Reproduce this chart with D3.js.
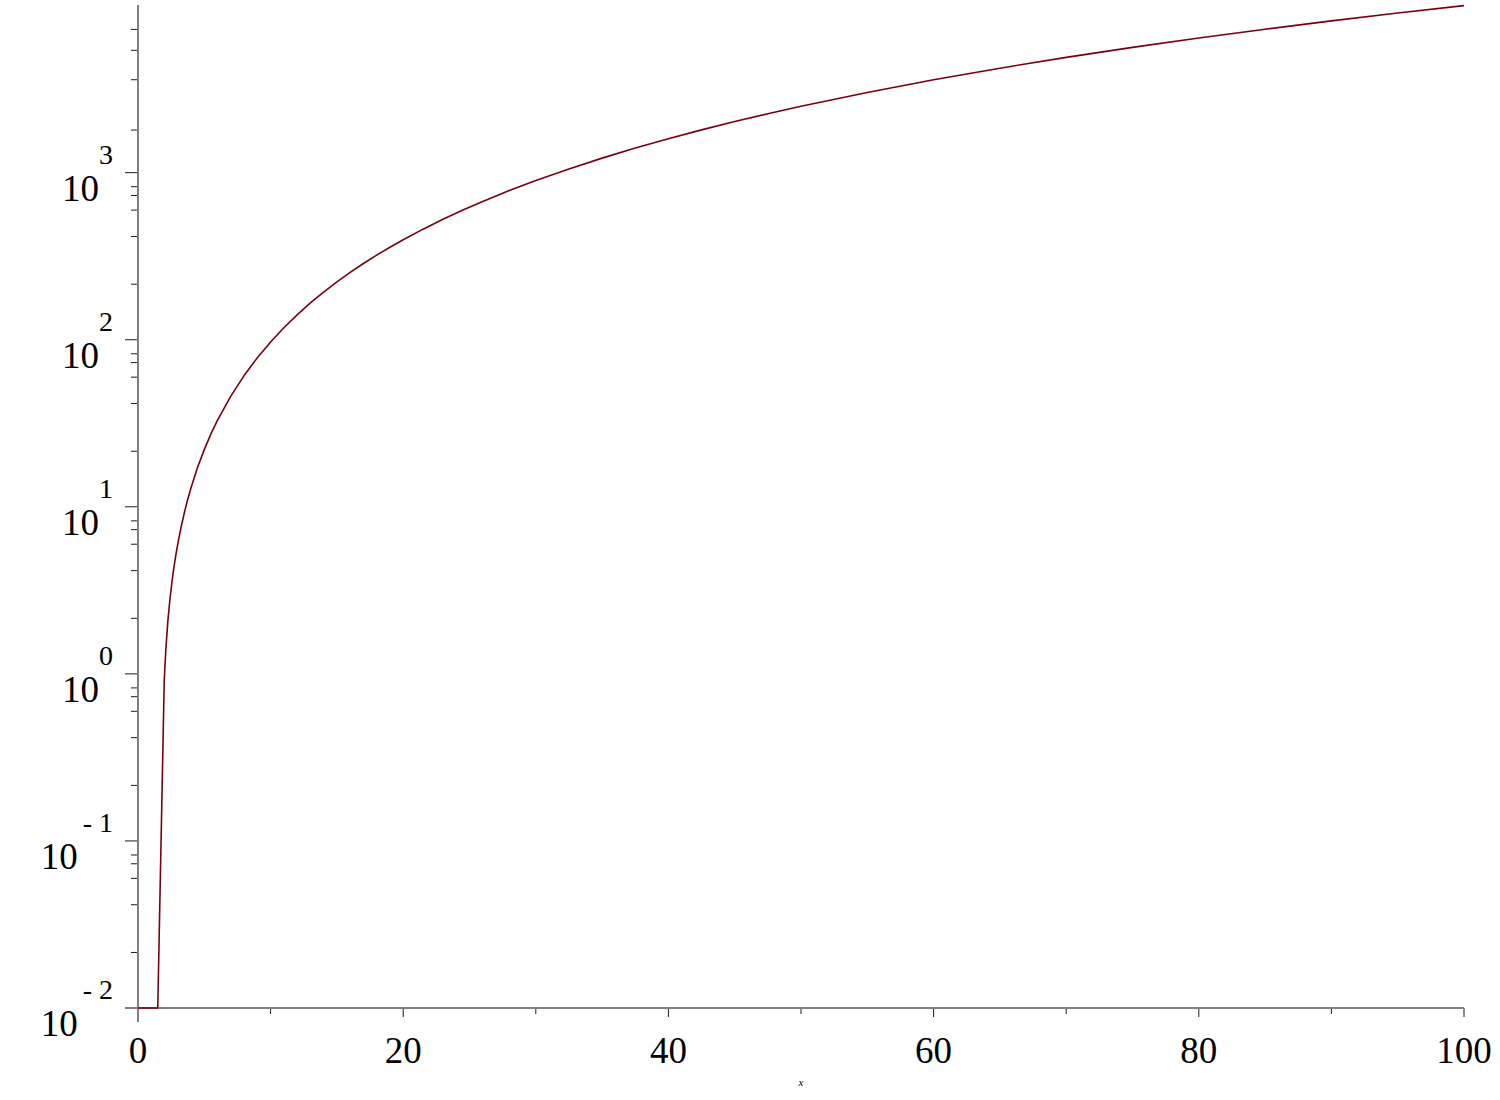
<!DOCTYPE html>
<html>
<head>
<meta charset="utf-8">
<script src="https://cdn.jsdelivr.net/npm/d3@7"></script>
<style>
  html, body { margin: 0; padding: 0; background: #ffffff; }
  svg { display: block; }
</style>
</head>
<body>
<svg id="chart" width="1500" height="1100"></svg>
<script>
// ---- data ----
const xValues = [0, 1.49, 1.98, 2.1, 2.25, 2.4, 2.55, 2.7, 2.85, 3.0, 3.25, 3.5, 3.75, 4.0, 4.5, 5.0, 5.5,
  6, 7, 8, 9, 10, 11, 12, 13, 14, 15, 16, 17, 18, 19, 20, 21.5, 23, 24.5, 26, 28, 30, 32.5, 35, 37.5, 40,
  42.5, 45, 47.5, 50, 55, 60, 65, 70, 75, 80, 85, 90, 95, 100];
const yValues = [0.01, 0.01, 0.92, 1.41, 2.06, 2.76, 3.5, 4.29, 5.12, 6.0, 7.56, 9.25, 11.1, 13.0, 17.3, 22.0, 27.3,
  33, 46, 61, 78, 97, 118, 141, 166, 193, 222, 253, 286, 321, 358, 397, 459, 526, 597, 673, 781, 897, 1053, 1222,
  1403, 1597, 1803, 2022, 2253, 2497, 3022, 3597, 4222, 4897, 5622, 6397, 7222, 8097, 9022, 9997];

const xTickValues = [0, 10, 20, 30, 40, 50, 60, 70, 80, 90, 100];
const xTickLabels = ["0", "", "20", "", "40", "", "60", "", "80", "", "100"];
const yMajorExponents = [-2, -1, 0, 1, 2, 3];
const yExponentLabels = ["- 2", "- 1", "0", "1", "2", "3"];
const yMinorMultipliers = [2.15, 4.15, 5.97, 7.3, 8.24];
const yTopMinorTicks = [1800, 3600, 5400, 7200];
const xAxisTitle = "x";

// ---- scales ----
const x = d3.scaleLinear().domain([0, 100]).range([138, 1464]);
const y = d3.scaleLog().domain([0.01, 10000]).range([1008, 5.6]);

const svg = d3.select("#chart");
const axisColor = "#808080";
const tickColor = "#1a1a1a";
const serif = "'Liberation Serif', 'Times New Roman', serif";

// ---- y axis ----
const yMinor = [];
yMajorExponents.slice(0, -1).forEach(e => {
  yMinorMultipliers.forEach(m => yMinor.push(m * Math.pow(10, e)));
});
yTopMinorTicks.forEach(v => yMinor.push(v));

const gy = svg.append("g");
gy.selectAll("line.minor").data(yMinor).join("line")
  .attr("class", "minor")
  .attr("x1", 131).attr("x2", 138)
  .attr("y1", d => y(d)).attr("y2", d => y(d))
  .attr("stroke", tickColor).attr("stroke-width", 1);
gy.selectAll("line.major").data(yMajorExponents).join("line")
  .attr("class", "major")
  .attr("x1", 125).attr("x2", 138)
  .attr("y1", d => y(Math.pow(10, d))).attr("y2", d => y(Math.pow(10, d)))
  .attr("stroke", tickColor).attr("stroke-width", 1);

const labels = gy.selectAll("text.ylab").data(yMajorExponents).join("text")
  .attr("class", "ylab")
  .attr("x", 113)
  .attr("y", d => y(Math.pow(10, d)) + 28)
  .attr("text-anchor", "end")
  .attr("font-family", serif)
  .attr("fill", "#000");
labels.append("tspan").attr("font-size", 37).text("10");
labels.append("tspan").attr("font-size", 28).attr("dy", -37)
  .attr("dx", (d) => d < 0 ? 5 : 0)
  .text((d, i) => yExponentLabels[i]);

svg.append("line")
  .attr("x1", 138).attr("x2", 138)
  .attr("y1", 5).attr("y2", 1022)
  .attr("stroke", axisColor).attr("stroke-width", 2);

// ---- x axis ----
const gx = svg.append("g");
gx.selectAll("line.xt").data(xTickValues.slice(1)).join("line")
  .attr("class", "xt")
  .attr("x1", d => x(d)).attr("x2", d => x(d))
  .attr("y1", 1008)
  .attr("y2", (d, i) => 1008 + (xTickLabels[i + 1] ? 9 : 6))
  .attr("stroke", tickColor).attr("stroke-width", 1);

svg.append("line")
  .attr("x1", 125).attr("x2", 1464)
  .attr("y1", 1008).attr("y2", 1008)
  .attr("stroke", axisColor).attr("stroke-width", 2);

gx.selectAll("text.xlab").data(xTickValues).join("text")
  .attr("class", "xlab")
  .attr("x", d => x(d))
  .attr("y", 1063)
  .attr("text-anchor", "middle")
  .attr("font-family", serif)
  .attr("font-size", 37)
  .attr("fill", "#000")
  .text((d, i) => xTickLabels[i]);

svg.append("text")
  .attr("x", x(50))
  .attr("y", 1086)
  .attr("text-anchor", "middle")
  .attr("font-family", serif)
  .attr("font-style", "italic")
  .attr("font-size", 11)
  .attr("fill", "#000")
  .text(xAxisTitle);

// ---- curve (drawn on top of the axes) ----
const data = xValues.map((d, i) => ({ x: d, y: yValues[i] }));
svg.append("path")
  .datum(data)
  .attr("fill", "none")
  .attr("stroke", "#78000E")
  .attr("stroke-width", 1.6)
  .attr("stroke-linejoin", "round")
  .attr("d", d3.line().x(d => x(d.x)).y(d => y(d.y)).curve(d3.curveLinear));
</script>
</body>
</html>
